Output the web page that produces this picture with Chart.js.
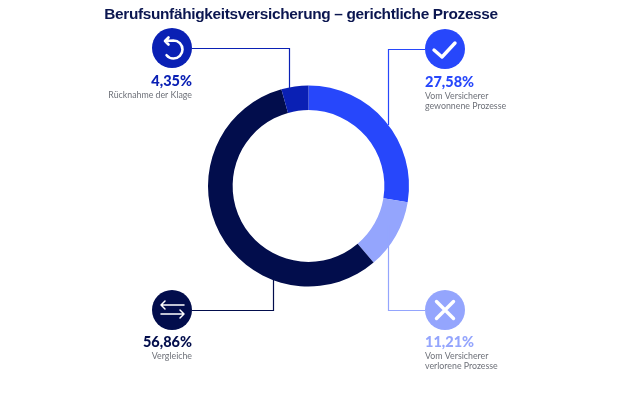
<!DOCTYPE html>
<html lang="de">
<head>
<meta charset="utf-8">
<title>Berufsunfähigkeitsversicherung – gerichtliche Prozesse</title>
<script src="https://cdn.jsdelivr.net/npm/chart.js@4"></script>
<style>
  html, body { margin: 0; padding: 0; background: #fff; }
  #wrap { position: relative; width: 620px; height: 413px; }
</style>
</head>
<body>
<div id="wrap"><canvas id="chart"></canvas></div>
<script>
const chartTitle = "Berufsunfähigkeitsversicherung – gerichtliche Prozesse";
const categories = ["Vom Versicherer gewonnene Prozesse", "Vom Versicherer verlorene Prozesse", "Vergleiche", "Rücknahme der Klage"];
const shares = [27.58, 11.21, 56.86, 4.35];
const shareLabels = ["27,58%", "11,21%", "56,86%", "4,35%"];
const captionLines = [["Vom Versicherer", "gewonnene Prozesse"], ["Vom Versicherer", "verlorene Prozesse"], ["Vergleiche"], ["Rücknahme der Klage"]];
const sliceColors = ["#2747fb", "#94a5fd", "#020d4c", "#0a20b4"];

// callout layout: icon centre, elbow x, where the leader ends, text side
const callouts = [
  { icon: "check", x: 445, y: 49, elbowX: 388, endY: 125, side: "left", textY: 82 },
  { icon: "cross", x: 445, y: 310, elbowX: 388, endY: 225, side: "left", textY: 342 },
  { icon: "swap", x: 172, y: 310, elbowX: 273, endY: 280, side: "right", textY: 342 },
  { icon: "undo", x: 172, y: 48, elbowX: 289, endY: 90, side: "right", textY: 81 }
];

function drawIcon(ctx, type, x, y) {
  ctx.save();
  ctx.translate(x, y);
  ctx.strokeStyle = "#fff";
  ctx.lineCap = "round";
  ctx.lineJoin = "round";
  ctx.beginPath();
  if (type === "check") {
    ctx.lineWidth = 3.4;
    ctx.moveTo(-11, 1);
    ctx.lineTo(-3, 8);
    ctx.lineTo(10, -6);
  } else if (type === "cross") {
    ctx.lineWidth = 3.4;
    ctx.moveTo(-8.5, -8.5);
    ctx.lineTo(8.5, 8.5);
    ctx.moveTo(8.5, -8.5);
    ctx.lineTo(-8.5, 8.5);
  } else if (type === "swap") {
    ctx.lineWidth = 1.5;
    ctx.moveTo(-11, -5);
    ctx.lineTo(12, -5);
    ctx.moveTo(-7, -9);
    ctx.lineTo(-11, -5);
    ctx.lineTo(-7, -1);
    ctx.moveTo(-11, 4);
    ctx.lineTo(12, 4);
    ctx.moveTo(8, 0);
    ctx.lineTo(12, 4);
    ctx.lineTo(8, 8);
  } else {
    ctx.lineWidth = 2.6;
    ctx.arc(1.5, 1.5, 9, -Math.PI / 2, Math.PI * 0.78);
    ctx.moveTo(1.5, -7.5);
    ctx.lineTo(-7, -7);
    ctx.moveTo(-3.5, -10.5);
    ctx.lineTo(-7, -7);
    ctx.lineTo(-3.5, -3.5);
  }
  ctx.stroke();
  ctx.restore();
}

const calloutPlugin = {
  id: "callouts",
  afterDraw(chart) {
    const ctx = chart.ctx;
    ctx.save();

    ctx.fillStyle = "#0b1650";
    ctx.font = "bold 15.4px 'Liberation Sans'";
    ctx.letterSpacing = "-0.33px";
    ctx.textAlign = "center";
    ctx.textBaseline = "middle";
    ctx.fillText(chartTitle, 301, 15);
    ctx.letterSpacing = "0px";

    callouts.forEach((c, i) => {
      const color = sliceColors[i];
      const startX = c.side === "left" ? c.x - 20 : c.x + 20;

      ctx.strokeStyle = color;
      ctx.lineWidth = 1.2;
      ctx.beginPath();
      ctx.moveTo(startX, c.y + 0.5);
      ctx.lineTo(c.elbowX + 0.5, c.y + 0.5);
      ctx.lineTo(c.elbowX + 0.5, c.endY);
      ctx.stroke();

      ctx.fillStyle = color;
      ctx.beginPath();
      ctx.arc(c.x, c.y, 20, 0, Math.PI * 2);
      ctx.fill();
      drawIcon(ctx, c.icon, c.x, c.y);

      ctx.textAlign = c.side;
      ctx.fillStyle = color;
      ctx.font = "900 14.5px Lato";
      ctx.fillText(shareLabels[i], startX, c.textY);

      ctx.fillStyle = "#6e7179";
      ctx.font = "8.8px Lato";
      captionLines[i].forEach((line, n) => {
        ctx.fillText(line, startX, c.textY + 14 + n * 10);
      });
    });
    ctx.restore();
  }
};

new Chart(document.getElementById("chart"), {
  type: "doughnut",
  data: {
    labels: categories,
    datasets: [{
      data: shares,
      backgroundColor: sliceColors,
      borderWidth: 0
    }]
  },
  options: {
    responsive: true,
    maintainAspectRatio: false,
    animation: false,
    cutout: "75.5%",
    layout: { padding: { left: 208, right: 211, top: 85, bottom: 126 } },
    plugins: {
      legend: { display: false },
      tooltip: { enabled: false }
    }
  },
  plugins: [calloutPlugin]
});
</script>
</body>
</html>
